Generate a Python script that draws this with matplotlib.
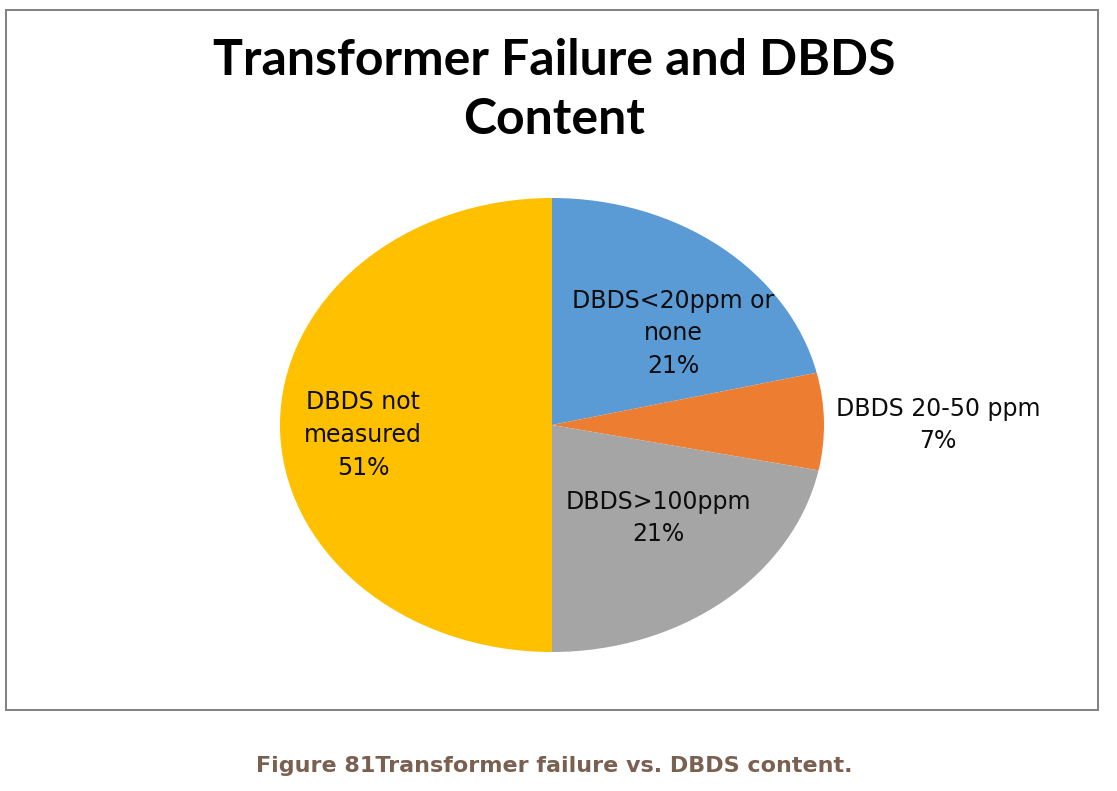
import matplotlib.pyplot as plt
from matplotlib.patches import Rectangle

categories = ['DBDS<20ppm or\nnone', 'DBDS 20-50 ppm', 'DBDS>100ppm', 'DBDS not\nmeasured']
# slice sizes; labels as printed on the chart
shares = [21.3, 6.9, 21.8, 50.0]
pct_labels = ['21%', '7%', '21%', '51%']
colors = ['#5B9BD5', '#ED7D31', '#A5A5A5', '#FFC000']

# label centres in pie data coords (pie radius = 1)
label_pos = [(0.445, 0.405), (1.42, 0.0), (0.39, -0.41), (-0.695, -0.044)]

fig = plt.figure(figsize=(11.17, 7.91), dpi=100)
fig.patch.set_facecolor('white')

# chart frame
fig.add_artist(Rectangle((6 / 1117, 1 - 710 / 791), 1092 / 1117, 700 / 791,
                         transform=fig.transFigure, fill=False,
                         edgecolor='#808080', linewidth=1.4))

ax = fig.add_axes([280 / 1117, 1 - 652 / 791, 544 / 1117, 454 / 791])
ax.pie(shares, colors=colors, startangle=90, counterclock=False,
       wedgeprops=dict(linewidth=0))
ax.set_aspect('auto')
ax.set_xlim(-1, 1)
ax.set_ylim(-1, 1)
ax.axis('off')

for cat, pct, (x, y) in zip(categories, pct_labels, label_pos):
    ax.text(x, y, f'{cat}\n{pct}', ha='center', va='center', fontsize=17,
            family='DejaVu Sans', color='#0d0d0d', linespacing=1.45)

fig.text(554 / 1117, 1 - 90 / 791, 'Transformer Failure and DBDS\nContent',
         ha='center', va='center', fontsize=36, fontweight='bold',
         family='Lato', linespacing=1.36)

fig.text(554 / 1117, 1 - 766 / 791, 'Figure 81Transformer failure vs. DBDS content.',
         ha='center', va='center', fontsize=16, fontweight='bold',
         family='DejaVu Sans', color='#7a6050')

fig.savefig('out.png', dpi=100)
